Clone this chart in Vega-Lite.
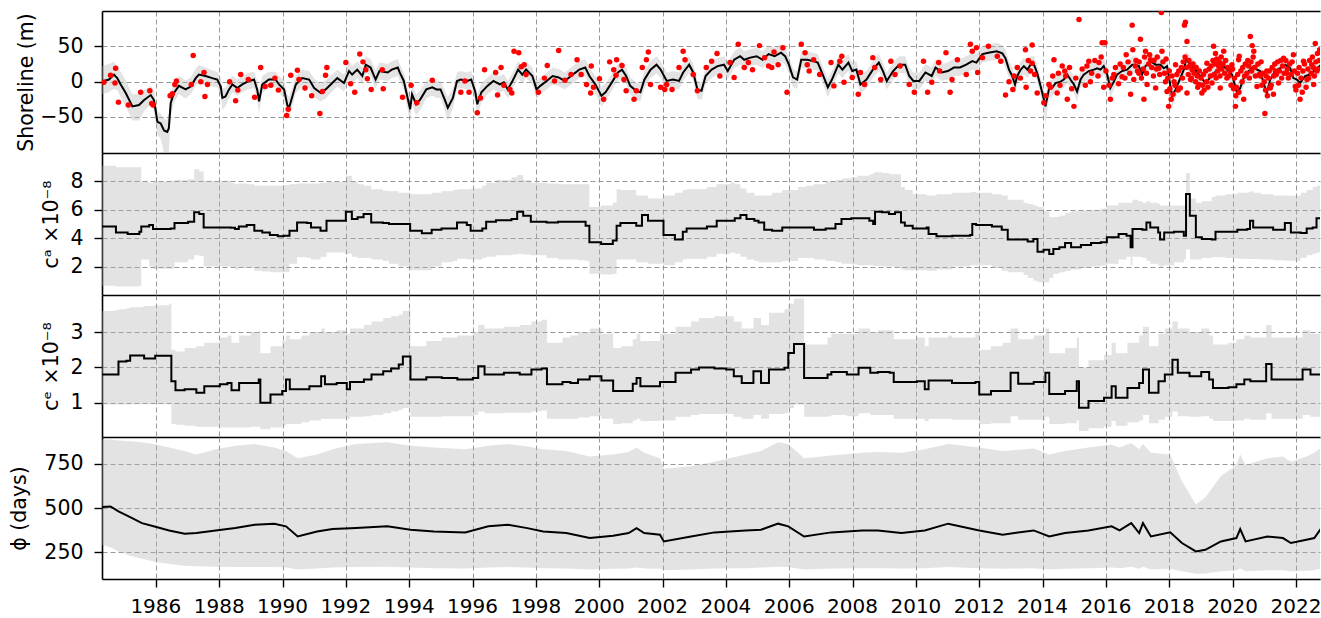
{
"$schema":"https://vega.github.io/schema/vega-lite/v6.json",
"autosize":{"type":"pad"},
"padding":{"left":9,"top":11,"right":0,"bottom":0},
"spacing":0,
"config":{
 "font":"DejaVu Sans",
 "view":{"stroke":null},
 "axis":{"grid":true,"gridColor":"#8c8c8c","gridDash":[5,3],"gridWidth":0.9,"domain":true,"domainColor":"black","domainWidth":1.6,"tickColor":"black","tickSize":8,"tickWidth":1.4,"labelFont":"DejaVu Sans","labelFontSize":20.5,"labelColor":"black","titleFont":"DejaVu Sans","titleFontSize":20.5,"titleFontWeight":"normal","titleColor":"black"},
 "axisY":{"labelPadding":11},
 "axisX":{"labelPadding":9,"labelFontSize":20,"labelOffset":-0.5}
},
"datasets":{
"s1":[
{"t":1984.3,"y":0,"lo":-18,"hi":22},{"t":1984.52,"y":3,"lo":-15,"hi":25},{"t":1984.68,"y":10,"lo":-10,"hi":28},{"t":1984.78,"y":5,"lo":-12,"hi":22},{"t":1984.89,"y":-4,"lo":-22,"hi":14},{"t":1985.05,"y":-16,"lo":-35,"hi":2},{"t":1985.26,"y":-35,"lo":-55,"hi":-18},{"t":1985.47,"y":-33,"lo":-55,"hi":-18},{"t":1985.63,"y":-26,"lo":-42,"hi":-12},{"t":1985.84,"y":-19,"lo":-32,"hi":-6},{"t":1985.94,"y":-26,"lo":-42,"hi":-12},{"t":1986.05,"y":-57,"lo":-75,"hi":-42},{"t":1986.15,"y":-59,"lo":-80,"hi":-45},{"t":1986.26,"y":-69,"lo":-101,"hi":-52},{"t":1986.36,"y":-71,"lo":-101,"hi":-55},{"t":1986.41,"y":-66,"lo":-101,"hi":-45},{"t":1986.47,"y":-30,"lo":-50,"hi":-14},{"t":1986.57,"y":-16,"lo":-30,"hi":-2},{"t":1986.73,"y":-6,"lo":-18,"hi":8},{"t":1986.94,"y":-11,"lo":-24,"hi":2},{"t":1987.1,"y":-7,"lo":-18,"hi":6},{"t":1987.26,"y":5,"lo":-6,"hi":18},{"t":1987.36,"y":10,"lo":-2,"hi":24},{"t":1987.57,"y":8,"lo":-4,"hi":20},{"t":1987.78,"y":5,"lo":-7,"hi":16},{"t":1987.94,"y":3,"lo":-8,"hi":14},{"t":1988.05,"y":-7,"lo":-20,"hi":6},{"t":1988.1,"y":-23,"lo":-40,"hi":-10},{"t":1988.2,"y":-21,"lo":-35,"hi":-8},{"t":1988.31,"y":-11,"lo":-24,"hi":2},{"t":1988.42,"y":-4,"lo":-15,"hi":8},{"t":1988.57,"y":-9,"lo":-20,"hi":3},{"t":1988.73,"y":-4,"lo":-15,"hi":8},{"t":1988.89,"y":0,"lo":-11,"hi":12},{"t":1989.1,"y":3,"lo":-9,"hi":14},{"t":1989.2,"y":-11,"lo":-26,"hi":2},{"t":1989.26,"y":-28,"lo":-45,"hi":-14},{"t":1989.36,"y":-4,"lo":-16,"hi":8},{"t":1989.57,"y":3,"lo":-8,"hi":14},{"t":1989.78,"y":3,"lo":-8,"hi":14},{"t":1989.89,"y":-4,"lo":-15,"hi":8},{"t":1990.05,"y":-11,"lo":-24,"hi":2},{"t":1990.15,"y":-33,"lo":-50,"hi":-18},{"t":1990.2,"y":-38,"lo":-52,"hi":-22},{"t":1990.31,"y":-21,"lo":-36,"hi":-8},{"t":1990.42,"y":-4,"lo":-16,"hi":8},{"t":1990.62,"y":5,"lo":-7,"hi":17},{"t":1990.84,"y":3,"lo":-9,"hi":15},{"t":1991.0,"y":-9,"lo":-22,"hi":4},{"t":1991.21,"y":-16,"lo":-28,"hi":-3},{"t":1991.36,"y":-11,"lo":-24,"hi":2},{"t":1991.57,"y":-2,"lo":-14,"hi":10},{"t":1991.73,"y":5,"lo":-7,"hi":17},{"t":1991.94,"y":-2,"lo":-14,"hi":10},{"t":1992.1,"y":15,"lo":3,"hi":27},{"t":1992.2,"y":10,"lo":-2,"hi":22},{"t":1992.36,"y":17,"lo":5,"hi":29},{"t":1992.52,"y":8,"lo":-4,"hi":20},{"t":1992.63,"y":24,"lo":12,"hi":36},{"t":1992.78,"y":20,"lo":8,"hi":32},{"t":1992.94,"y":3,"lo":-10,"hi":15},{"t":1993.06,"y":15,"lo":3,"hi":27},{"t":1993.32,"y":13,"lo":1,"hi":25},{"t":1993.45,"y":17,"lo":5,"hi":29},{"t":1993.64,"y":20,"lo":8,"hi":32},{"t":1993.7,"y":13,"lo":1,"hi":25},{"t":1993.83,"y":1,"lo":-12,"hi":13},{"t":1994.03,"y":-39,"lo":-58,"hi":-24},{"t":1994.09,"y":-18,"lo":-32,"hi":-5},{"t":1994.22,"y":-32,"lo":-48,"hi":-18},{"t":1994.35,"y":-25,"lo":-40,"hi":-12},{"t":1994.54,"y":-11,"lo":-24,"hi":1},{"t":1994.73,"y":-8,"lo":-20,"hi":4},{"t":1994.86,"y":-11,"lo":-23,"hi":1},{"t":1994.99,"y":-11,"lo":-23,"hi":1},{"t":1995.12,"y":-25,"lo":-40,"hi":-12},{"t":1995.22,"y":-37,"lo":-55,"hi":-22},{"t":1995.38,"y":-23,"lo":-38,"hi":-10},{"t":1995.51,"y":1,"lo":-11,"hi":13},{"t":1995.63,"y":3,"lo":-9,"hi":15},{"t":1995.83,"y":1,"lo":-11,"hi":13},{"t":1995.96,"y":3,"lo":-9,"hi":15},{"t":1996.09,"y":-15,"lo":-30,"hi":-2},{"t":1996.15,"y":-32,"lo":-48,"hi":-18},{"t":1996.28,"y":-15,"lo":-30,"hi":-2},{"t":1996.47,"y":-6,"lo":-18,"hi":6},{"t":1996.66,"y":1,"lo":-11,"hi":13},{"t":1996.86,"y":-4,"lo":-16,"hi":8},{"t":1996.99,"y":-1,"lo":-13,"hi":11},{"t":1997.11,"y":-11,"lo":-24,"hi":1},{"t":1997.24,"y":-1,"lo":-13,"hi":11},{"t":1997.44,"y":17,"lo":5,"hi":29},{"t":1997.57,"y":10,"lo":-2,"hi":22},{"t":1997.69,"y":17,"lo":5,"hi":29},{"t":1997.89,"y":8,"lo":-4,"hi":20},{"t":1998.02,"y":-11,"lo":-25,"hi":1},{"t":1998.14,"y":-6,"lo":-18,"hi":6},{"t":1998.34,"y":1,"lo":-11,"hi":13},{"t":1998.53,"y":8,"lo":-4,"hi":20},{"t":1998.72,"y":6,"lo":-6,"hi":18},{"t":1998.91,"y":1,"lo":-11,"hi":13},{"t":1999.11,"y":8,"lo":-4,"hi":20},{"t":1999.37,"y":17,"lo":5,"hi":29},{"t":1999.56,"y":20,"lo":8,"hi":32},{"t":1999.69,"y":8,"lo":-4,"hi":20},{"t":1999.88,"y":-4,"lo":-17,"hi":8},{"t":2000.07,"y":-20,"lo":-35,"hi":-7},{"t":2000.2,"y":-15,"lo":-28,"hi":-3},{"t":2000.4,"y":-1,"lo":-13,"hi":11},{"t":2000.59,"y":13,"lo":1,"hi":25},{"t":2000.72,"y":17,"lo":5,"hi":29},{"t":2000.85,"y":8,"lo":-4,"hi":20},{"t":2000.98,"y":-6,"lo":-18,"hi":6},{"t":2001.17,"y":-13,"lo":-26,"hi":-1},{"t":2001.3,"y":-15,"lo":-28,"hi":-3},{"t":2001.43,"y":3,"lo":-9,"hi":15},{"t":2001.62,"y":17,"lo":5,"hi":29},{"t":2001.81,"y":24,"lo":12,"hi":36},{"t":2001.94,"y":17,"lo":5,"hi":29},{"t":2002.13,"y":1,"lo":-11,"hi":13},{"t":2002.33,"y":3,"lo":-9,"hi":15},{"t":2002.52,"y":1,"lo":-11,"hi":13},{"t":2002.65,"y":13,"lo":1,"hi":25},{"t":2002.84,"y":24,"lo":12,"hi":36},{"t":2002.97,"y":13,"lo":1,"hi":25},{"t":2003.1,"y":-11,"lo":-24,"hi":1},{"t":2003.23,"y":-13,"lo":-26,"hi":-1},{"t":2003.36,"y":8,"lo":-4,"hi":20},{"t":2003.55,"y":17,"lo":5,"hi":29},{"t":2003.74,"y":22,"lo":10,"hi":34},{"t":2003.94,"y":24,"lo":12,"hi":36},{"t":2004.06,"y":15,"lo":3,"hi":27},{"t":2004.26,"y":31,"lo":19,"hi":43},{"t":2004.45,"y":36,"lo":24,"hi":48},{"t":2004.58,"y":31,"lo":19,"hi":43},{"t":2004.77,"y":34,"lo":22,"hi":46},{"t":2004.97,"y":36,"lo":24,"hi":48},{"t":2005.16,"y":31,"lo":19,"hi":43},{"t":2005.35,"y":39,"lo":27,"hi":51},{"t":2005.54,"y":36,"lo":24,"hi":48},{"t":2005.74,"y":41,"lo":29,"hi":53},{"t":2005.87,"y":36,"lo":24,"hi":48},{"t":2005.99,"y":24,"lo":12,"hi":36},{"t":2006.12,"y":6,"lo":-8,"hi":18},{"t":2006.25,"y":3,"lo":-10,"hi":15},{"t":2006.38,"y":31,"lo":19,"hi":43},{"t":2006.57,"y":31,"lo":19,"hi":43},{"t":2006.77,"y":29,"lo":17,"hi":41},{"t":2006.9,"y":27,"lo":15,"hi":39},{"t":2007.03,"y":13,"lo":1,"hi":25},{"t":2007.22,"y":-8,"lo":-22,"hi":4},{"t":2007.35,"y":3,"lo":-9,"hi":15},{"t":2007.55,"y":24,"lo":12,"hi":36},{"t":2007.68,"y":17,"lo":5,"hi":29},{"t":2007.87,"y":27,"lo":15,"hi":39},{"t":2007.99,"y":15,"lo":3,"hi":27},{"t":2008.12,"y":17,"lo":5,"hi":29},{"t":2008.25,"y":-4,"lo":-17,"hi":8},{"t":2008.44,"y":3,"lo":-9,"hi":15},{"t":2008.64,"y":17,"lo":5,"hi":29},{"t":2008.83,"y":27,"lo":15,"hi":39},{"t":2008.96,"y":15,"lo":3,"hi":27},{"t":2009.08,"y":1,"lo":-11,"hi":13},{"t":2009.28,"y":15,"lo":3,"hi":27},{"t":2009.47,"y":24,"lo":12,"hi":36},{"t":2009.66,"y":24,"lo":12,"hi":36},{"t":2009.79,"y":8,"lo":-4,"hi":20},{"t":2009.92,"y":1,"lo":-11,"hi":13},{"t":2010.11,"y":1,"lo":-11,"hi":13},{"t":2010.3,"y":13,"lo":1,"hi":25},{"t":2010.5,"y":8,"lo":-4,"hi":20},{"t":2010.62,"y":20,"lo":8,"hi":32},{"t":2010.82,"y":13,"lo":1,"hi":25},{"t":2011.01,"y":15,"lo":3,"hi":27},{"t":2011.2,"y":20,"lo":8,"hi":32},{"t":2011.39,"y":20,"lo":8,"hi":32},{"t":2011.59,"y":24,"lo":12,"hi":36},{"t":2011.78,"y":29,"lo":17,"hi":41},{"t":2011.91,"y":27,"lo":15,"hi":39},{"t":2012.1,"y":39,"lo":27,"hi":51},{"t":2012.29,"y":41,"lo":29,"hi":53},{"t":2012.55,"y":43,"lo":31,"hi":55},{"t":2012.73,"y":40,"lo":28,"hi":52},{"t":2012.83,"y":33,"lo":20,"hi":45},{"t":2012.94,"y":17,"lo":4,"hi":29},{"t":2013.04,"y":8,"lo":-5,"hi":20},{"t":2013.13,"y":-4,"lo":-18,"hi":8},{"t":2013.2,"y":8,"lo":-4,"hi":20},{"t":2013.31,"y":17,"lo":5,"hi":29},{"t":2013.41,"y":22,"lo":10,"hi":34},{"t":2013.52,"y":17,"lo":5,"hi":29},{"t":2013.62,"y":24,"lo":12,"hi":36},{"t":2013.73,"y":24,"lo":12,"hi":36},{"t":2013.83,"y":12,"lo":0,"hi":24},{"t":2013.94,"y":-7,"lo":-20,"hi":5},{"t":2014.04,"y":-25,"lo":-42,"hi":-12},{"t":2014.09,"y":-35,"lo":-60,"hi":-20},{"t":2014.2,"y":-11,"lo":-25,"hi":1},{"t":2014.3,"y":-9,"lo":-21,"hi":3},{"t":2014.41,"y":-2,"lo":-14,"hi":10},{"t":2014.57,"y":0,"lo":-12,"hi":12},{"t":2014.67,"y":3,"lo":-9,"hi":15},{"t":2014.78,"y":10,"lo":-2,"hi":22},{"t":2014.88,"y":3,"lo":-9,"hi":15},{"t":2014.99,"y":-4,"lo":-16,"hi":8},{"t":2015.09,"y":-14,"lo":-28,"hi":-2},{"t":2015.2,"y":3,"lo":-9,"hi":15},{"t":2015.3,"y":10,"lo":-2,"hi":22},{"t":2015.46,"y":15,"lo":3,"hi":27},{"t":2015.62,"y":17,"lo":5,"hi":29},{"t":2015.72,"y":19,"lo":7,"hi":31},{"t":2015.83,"y":17,"lo":5,"hi":29},{"t":2015.93,"y":22,"lo":10,"hi":34},{"t":2016.04,"y":10,"lo":-2,"hi":22},{"t":2016.14,"y":-9,"lo":-22,"hi":3},{"t":2016.25,"y":0,"lo":-12,"hi":12},{"t":2016.35,"y":10,"lo":-2,"hi":22},{"t":2016.51,"y":15,"lo":3,"hi":27},{"t":2016.67,"y":17,"lo":5,"hi":29},{"t":2016.83,"y":24,"lo":12,"hi":36},{"t":2016.93,"y":24,"lo":12,"hi":36},{"t":2017.04,"y":22,"lo":10,"hi":34},{"t":2017.14,"y":10,"lo":-2,"hi":22},{"t":2017.25,"y":22,"lo":10,"hi":34},{"t":2017.41,"y":29,"lo":17,"hi":41},{"t":2017.57,"y":24,"lo":12,"hi":36},{"t":2017.72,"y":24,"lo":12,"hi":36},{"t":2017.83,"y":19,"lo":7,"hi":31},{"t":2017.93,"y":22,"lo":10,"hi":34},{"t":2018.04,"y":-7,"lo":-20,"hi":5},{"t":2018.09,"y":-21,"lo":-35,"hi":-9},{"t":2018.2,"y":-11,"lo":-24,"hi":1},{"t":2018.35,"y":5,"lo":-7,"hi":17},{"t":2018.46,"y":17,"lo":5,"hi":29},{"t":2018.53,"y":31,"lo":19,"hi":43},{"t":2018.67,"y":24,"lo":12,"hi":36},{"t":2018.82,"y":17,"lo":5,"hi":29},{"t":2018.98,"y":8,"lo":-4,"hi":20},{"t":2019.14,"y":-2,"lo":-14,"hi":10},{"t":2019.24,"y":3,"lo":-9,"hi":15},{"t":2019.4,"y":12,"lo":0,"hi":24},{"t":2019.56,"y":17,"lo":5,"hi":29},{"t":2019.72,"y":22,"lo":10,"hi":34},{"t":2019.82,"y":17,"lo":5,"hi":29},{"t":2019.98,"y":10,"lo":-2,"hi":22},{"t":2020.14,"y":-16,"lo":-30,"hi":-4},{"t":2020.24,"y":-9,"lo":-22,"hi":3},{"t":2020.35,"y":5,"lo":-7,"hi":17},{"t":2020.51,"y":15,"lo":3,"hi":27},{"t":2020.67,"y":22,"lo":10,"hi":34},{"t":2020.77,"y":17,"lo":5,"hi":29},{"t":2020.87,"y":15,"lo":3,"hi":27},{"t":2020.98,"y":-2,"lo":-14,"hi":10},{"t":2021.08,"y":-16,"lo":-30,"hi":-4},{"t":2021.19,"y":3,"lo":-9,"hi":15},{"t":2021.35,"y":15,"lo":3,"hi":27},{"t":2021.5,"y":19,"lo":7,"hi":31},{"t":2021.66,"y":24,"lo":12,"hi":36},{"t":2021.82,"y":19,"lo":7,"hi":31},{"t":2021.92,"y":5,"lo":-7,"hi":17},{"t":2022.03,"y":3,"lo":-9,"hi":15},{"t":2022.13,"y":-2,"lo":-14,"hi":10},{"t":2022.29,"y":8,"lo":-4,"hi":20},{"t":2022.45,"y":10,"lo":-2,"hi":22},{"t":2022.61,"y":17,"lo":5,"hi":29},{"t":2022.8,"y":24,"lo":12,"hi":36}
],
"d1":[
{"t":1984.36,"v":-1},{"t":1984.57,"v":9},{"t":1984.73,"v":19},{"t":1984.71,"v":-2},{"t":1984.82,"v":-29},{"t":1985.13,"v":-33},{"t":1985.52,"v":-15},{"t":1985.81,"v":-13},{"t":1985.87,"v":-31},{"t":1985.91,"v":-33},{"t":1986.45,"v":-20},{"t":1986.52,"v":-17},{"t":1986.6,"v":-4},{"t":1986.65,"v":1},{"t":1987.18,"v":37},{"t":1987.12,"v":-4},{"t":1987.42,"v":0},{"t":1987.52,"v":13},{"t":1987.63,"v":-4},{"t":1987.55,"v":-21},{"t":1988.33,"v":0},{"t":1988.52,"v":-27},{"t":1988.59,"v":-12},{"t":1988.68,"v":10},{"t":1988.92,"v":3},{"t":1989.12,"v":-22},{"t":1989.31,"v":20},{"t":1989.45,"v":-7},{"t":1989.63,"v":-5},{"t":1989.76,"v":5},{"t":1989.87,"v":-12},{"t":1990.13,"v":-48},{"t":1990.18,"v":-39},{"t":1990.26,"v":9},{"t":1990.47,"v":16},{"t":1990.52,"v":3},{"t":1990.71,"v":-9},{"t":1990.92,"v":-20},{"t":1991.18,"v":-45},{"t":1991.26,"v":-14},{"t":1991.36,"v":9},{"t":1991.4,"v":20},{"t":1992.0,"v":27},{"t":1992.15,"v":-3},{"t":1992.28,"v":-15},{"t":1992.44,"v":39},{"t":1992.54,"v":28},{"t":1992.63,"v":17},{"t":1992.68,"v":4},{"t":1992.8,"v":-11},{"t":1993.15,"v":17},{"t":1993.18,"v":-10},
{"t":1993.79,"v":-22},{"t":1994.06,"v":-5},{"t":1994.24,"v":-30},{"t":1994.73,"v":2},{"t":1995.63,"v":-15},{"t":1995.76,"v":1},{"t":1995.89,"v":-15},{"t":1996.15,"v":-44},{"t":1996.25,"v":-23},{"t":1996.38,"v":17},{"t":1996.73,"v":13},{"t":1996.79,"v":-19},{"t":1996.9,"v":20},{"t":1996.99,"v":-5},{"t":1997.18,"v":-11},{"t":1997.31,"v":43},{"t":1997.46,"v":41},{"t":1997.24,"v":-16},{"t":1997.54,"v":21},{"t":1997.63,"v":24},{"t":1997.69,"v":10},{"t":1998.08,"v":-15},{"t":1998.27,"v":5},{"t":1998.36,"v":23},{"t":1998.59,"v":1},{"t":1998.72,"v":44},{"t":1998.92,"v":2},{"t":1999.11,"v":10},{"t":1999.3,"v":31},{"t":1999.43,"v":10},{"t":1999.6,"v":-4},{"t":1999.75,"v":22},{"t":1999.73,"v":-16},{"t":1999.82,"v":-8},{"t":2000.01,"v":4},{"t":2000.14,"v":-25},{"t":2000.33,"v":28},{"t":2000.46,"v":17},{"t":2000.55,"v":31},{"t":2000.53,"v":9},{"t":2000.72,"v":23},{"t":2000.78,"v":3},{"t":2000.85,"v":-13},{"t":2001.1,"v":-25},{"t":2001.17,"v":-13},{"t":2001.36,"v":20},{"t":2001.49,"v":31},{"t":2001.55,"v":42},{"t":2001.62,"v":-4},{"t":2001.94,"v":-8},{"t":2002.07,"v":-11},{"t":2002.13,"v":-4},{"t":2002.3,"v":-11},{"t":2002.52,"v":20},{"t":2002.65,"v":43},{"t":2002.71,"v":31},{"t":2002.97,"v":10},{"t":2003.1,"v":-13},{"t":2003.38,"v":20},{"t":2003.55,"v":29},{"t":2003.72,"v":40},{"t":2003.81,"v":8},{"t":2004.13,"v":27},{"t":2004.26,"v":6},{"t":2004.39,"v":53},{"t":2004.58,"v":20},{"t":2004.71,"v":27},{"t":2004.84,"v":17},{"t":2005.06,"v":51},{"t":2005.22,"v":34},{"t":2005.35,"v":22},{"t":2005.52,"v":42},{"t":2005.45,"v":20},{"t":2005.8,"v":48},{"t":2005.65,"v":24},{"t":2005.93,"v":-15},{"t":2006.38,"v":53},{"t":2006.5,"v":41},{"t":2006.57,"v":24},{"t":2006.63,"v":15},{"t":2006.77,"v":31},{"t":2006.96,"v":10},{"t":2007.32,"v":27},{"t":2007.41,"v":-6},{"t":2007.6,"v":29},{"t":2007.66,"v":36},{"t":2007.73,"v":-1},{"t":2007.99,"v":6},{"t":2008.18,"v":-18},{"t":2008.25,"v":13},{"t":2008.38,"v":-4},{"t":2008.64,"v":34},{"t":2008.7,"v":20},{"t":2008.89,"v":3},{"t":2009.21,"v":29},{"t":2009.34,"v":10},{"t":2009.5,"v":22},{"t":2009.79,"v":-4},{"t":2009.95,"v":-15},{"t":2010.24,"v":29},{"t":2010.37,"v":-15},{"t":2010.5,"v":-1},{"t":2010.72,"v":27},{"t":2010.75,"v":15},{"t":2010.95,"v":41},{"t":2011.08,"v":-15},{"t":2011.14,"v":3},{"t":2011.31,"v":31},{"t":2011.59,"v":10},{"t":2011.72,"v":53},{"t":2011.78,"v":43},{"t":2011.91,"v":48},{"t":2011.95,"v":13},{"t":2012.1,"v":34},{"t":2012.29,"v":50},{"t":2012.57,"v":36},{"t":2012.83,"v":-19},{"t":2013.06,"v":-11},
{"t":2012.68,"v":29},{"t":2012.94,"v":0},{"t":2013.1,"v":8},{"t":2013.46,"v":45},{"t":2013.48,"v":-8},{"t":2013.67,"v":52},{"t":2013.67,"v":26},{"t":2013.62,"v":15},{"t":2013.83,"v":-16},{"t":2014.04,"v":-30},{"t":2014.2,"v":-4},{"t":2014.36,"v":31},{"t":2014.46,"v":-16},{"t":2014.62,"v":22},{"t":2014.73,"v":8},{"t":2014.78,"v":-25},{"t":2014.99,"v":-35},{"t":2015.15,"v":88},{"t":2015.46,"v":29},{"t":2015.51,"v":0},{"t":2015.78,"v":27},{"t":2015.88,"v":55},{"t":2015.97,"v":55},{"t":2015.93,"v":-8},{"t":2016.14,"v":-25},{"t":2016.25,"v":10},{"t":2016.51,"v":7},{"t":2016.64,"v":38},{"t":2016.78,"v":-18},{"t":2016.83,"v":80},{"t":2016.85,"v":45},{"t":2016.88,"v":3},{"t":2016.93,"v":22},{"t":2017.04,"v":12},{"t":2017.09,"v":60},{"t":2017.2,"v":-25},{"t":2017.25,"v":43},{"t":2017.3,"v":-4},{"t":2017.41,"v":31},{"t":2017.57,"v":-9},{"t":2017.67,"v":19},{"t":2017.75,"v":98},{"t":2017.77,"v":43},{"t":2017.88,"v":0},{"t":2017.93,"v":-14},{"t":2017.98,"v":-35},{"t":2018.09,"v":8},{"t":2018.2,"v":24},{"t":2018.35,"v":-9},{"t":2018.48,"v":80},{"t":2018.51,"v":84},{"t":2018.56,"v":57},{"t":2018.56,"v":-16},{"t":2018.67,"v":3},{"t":2018.72,"v":17},{"t":2018.83,"v":0},{"t":2018.93,"v":-4},{"t":2019.03,"v":-16},{"t":2019.19,"v":26},{"t":2019.3,"v":8},{"t":2019.4,"v":50},{"t":2019.46,"v":40},{"t":2019.56,"v":22},{"t":2019.61,"v":-9},{"t":2019.72,"v":43},{"t":2019.82,"v":5},{"t":2019.98,"v":24},{"t":2020.09,"v":-35},{"t":2020.19,"v":31},{"t":2020.21,"v":36},{"t":2020.35,"v":-25},{"t":2020.51,"v":22},{"t":2020.56,"v":64},{"t":2020.62,"v":51},{"t":2020.67,"v":43},{"t":2020.77,"v":-7},{"t":2020.88,"v":8},{"t":2021.02,"v":-45},{"t":2021.08,"v":15},{"t":2021.19,"v":-9},{"t":2021.29,"v":-18},{"t":2021.35,"v":15},{"t":2021.45,"v":-2},{"t":2021.61,"v":33},{"t":2021.71,"v":12},{"t":2021.92,"v":38},{"t":2021.98,"v":-7},{"t":2022.13,"v":-25},{"t":2022.24,"v":29},{"t":2022.35,"v":3},{"t":2022.5,"v":24},{"t":2022.56,"v":-4},{"t":2022.61,"v":54},{"t":2022.66,"v":15},
{"t":2013.2,"v":20},{"t":2013.3,"v":5},{"t":2013.55,"v":30},{"t":2013.75,"v":10},{"t":2014.1,"v":-20},{"t":2014.25,"v":-8},{"t":2014.32,"v":8},{"t":2014.5,"v":12},{"t":2014.55,"v":-5},{"t":2014.7,"v":15},{"t":2014.85,"v":20},{"t":2014.92,"v":-10},{"t":2015.05,"v":5},{"t":2015.25,"v":18},{"t":2015.35,"v":-5},{"t":2015.4,"v":22},{"t":2015.55,"v":12},{"t":2015.65,"v":30},{"t":2015.75,"v":8},{"t":2015.85,"v":35},{"t":2016.0,"v":15},{"t":2016.1,"v":-5},{"t":2016.2,"v":5},{"t":2016.3,"v":20},{"t":2016.4,"v":-3},{"t":2016.45,"v":25},
{"t":2016.55,"v":20},{"t":2016.6,"v":5},{"t":2016.7,"v":28},{"t":2016.75,"v":12},{"t":2016.95,"v":30},{"t":2017.0,"v":15},{"t":2017.05,"v":28},{"t":2017.12,"v":5},{"t":2017.18,"v":18},{"t":2017.22,"v":35},{"t":2017.28,"v":12},{"t":2017.35,"v":25},{"t":2017.38,"v":38},{"t":2017.45,"v":20},{"t":2017.5,"v":8},{"t":2017.52,"v":30},{"t":2017.6,"v":18},{"t":2017.62,"v":35},{"t":2017.7,"v":10},{"t":2017.8,"v":28},{"t":2017.85,"v":12},{"t":2017.9,"v":32},{"t":2017.95,"v":5},{"t":2018.0,"v":15},{"t":2018.02,"v":-10},{"t":2018.06,"v":-25},{"t":2018.12,"v":-18},{"t":2018.15,"v":0},{"t":2018.18,"v":-5},{"t":2018.24,"v":10},{"t":2018.28,"v":-12},{"t":2018.3,"v":15},{"t":2018.38,"v":20},{"t":2018.42,"v":5},{"t":2018.44,"v":28},{"t":2018.5,"v":35},{"t":2018.55,"v":20},{"t":2018.6,"v":10},{"t":2018.62,"v":30},{"t":2018.65,"v":22},{"t":2018.7,"v":5},{"t":2018.75,"v":25},{"t":2018.78,"v":12},{"t":2018.85,"v":20},{"t":2018.88,"v":8},{"t":2018.9,"v":-8},{"t":2018.95,"v":15},{"t":2019.0,"v":5},{"t":2019.05,"v":-5},{"t":2019.08,"v":10},{"t":2019.1,"v":-12},{"t":2019.15,"v":15},{"t":2019.18,"v":0},{"t":2019.22,"v":-8},{"t":2019.26,"v":18},{"t":2019.32,"v":22},{"t":2019.35,"v":-2},{"t":2019.38,"v":30},{"t":2019.42,"v":10},{"t":2019.44,"v":25},{"t":2019.48,"v":5},{"t":2019.5,"v":32},{"t":2019.53,"v":15},{"t":2019.58,"v":28},{"t":2019.6,"v":8},{"t":2019.64,"v":35},{"t":2019.66,"v":18},{"t":2019.7,"v":25},{"t":2019.75,"v":12},{"t":2019.78,"v":30},{"t":2019.85,"v":20},{"t":2019.88,"v":8},{"t":2019.92,"v":15},{"t":2019.95,"v":-5},{"t":2020.0,"v":18},{"t":2020.03,"v":-10},{"t":2020.06,"v":5},{"t":2020.1,"v":-20},{"t":2020.12,"v":-8},{"t":2020.16,"v":10},{"t":2020.2,"v":-15},{"t":2020.26,"v":15},{"t":2020.3,"v":0},{"t":2020.32,"v":20},{"t":2020.38,"v":8},{"t":2020.4,"v":25},{"t":2020.45,"v":12},{"t":2020.48,"v":30},{"t":2020.53,"v":5},{"t":2020.58,"v":28},{"t":2020.6,"v":15},{"t":2020.65,"v":35},{"t":2020.7,"v":20},{"t":2020.72,"v":8},{"t":2020.8,"v":25},{"t":2020.84,"v":10},{"t":2020.9,"v":28},{"t":2020.92,"v":-5},{"t":2020.95,"v":12},{"t":2021.0,"v":0},{"t":2021.04,"v":-12},{"t":2021.06,"v":8},{"t":2021.1,"v":-20},{"t":2021.13,"v":5},{"t":2021.16,"v":15},{"t":2021.22,"v":-5},{"t":2021.25,"v":20},{"t":2021.3,"v":8},{"t":2021.33,"v":25},{"t":2021.38,"v":10},{"t":2021.42,"v":28},{"t":2021.48,"v":15},{"t":2021.52,"v":30},{"t":2021.55,"v":5},{"t":2021.58,"v":22},{"t":2021.63,"v":12},{"t":2021.68,"v":30},{"t":2021.73,"v":18},{"t":2021.76,"v":5},{"t":2021.8,"v":25},{"t":2021.85,"v":10},{"t":2021.88,"v":28},{"t":2021.95,"v":15},{"t":2022.0,"v":-12},{"t":2022.05,"v":12},{"t":2022.08,"v":-5},{"t":2022.1,"v":20},{"t":2022.16,"v":5},{"t":2022.2,"v":-15},{"t":2022.22,"v":15},{"t":2022.27,"v":25},{"t":2022.32,"v":-8},{"t":2022.38,"v":18},{"t":2022.4,"v":5},{"t":2022.43,"v":30},{"t":2022.48,"v":12},{"t":2022.52,"v":35},{"t":2022.55,"v":20},{"t":2022.58,"v":8},{"t":2022.63,"v":28},{"t":2022.68,"v":40},{"t":2022.7,"v":18},{"t":2022.73,"v":30},{"t":2022.75,"v":45}
],
"s2":[
{"t":1984.3,"y":4.83,"lo":0.66,"hi":9.1},{"t":1984.68,"y":4.83,"lo":0.66,"hi":9.1},{"t":1984.74,"y":4.41,"lo":0.6,"hi":9.0},{"t":1985.11,"y":4.3,"lo":0.6,"hi":9.0},{"t":1985.48,"y":4.46,"lo":0.65,"hi":9.0},{"t":1985.54,"y":4.83,"lo":2.5,"hi":7.95},{"t":1985.79,"y":4.93,"lo":2.0,"hi":7.9},{"t":1985.91,"y":4.65,"lo":1.85,"hi":8.0},{"t":1986.47,"y":4.69,"lo":1.85,"hi":8.05},{"t":1986.59,"y":5.07,"lo":2.3,"hi":8.1},{"t":1987.02,"y":5.16,"lo":2.5,"hi":8.15},{"t":1987.21,"y":5.82,"lo":2.8,"hi":8.85},{"t":1987.37,"y":5.7,"lo":2.75,"hi":8.7},{"t":1987.51,"y":4.76,"lo":2.0,"hi":8.05},{"t":1988.37,"y":4.74,"lo":1.9,"hi":7.9},{"t":1988.5,"y":4.65,"lo":1.8,"hi":7.8},{"t":1988.62,"y":4.83,"lo":1.9,"hi":7.85},{"t":1988.87,"y":4.93,"lo":1.9,"hi":7.8},{"t":1989.11,"y":4.53,"lo":1.7,"hi":7.7},{"t":1989.36,"y":4.41,"lo":1.65,"hi":7.7},{"t":1989.6,"y":4.22,"lo":1.6,"hi":7.7},{"t":1989.85,"y":4.13,"lo":1.6,"hi":7.7},{"t":1990.03,"y":4.18,"lo":1.6,"hi":7.75},{"t":1990.22,"y":4.53,"lo":2.2,"hi":7.8},{"t":1990.46,"y":5.11,"lo":2.65,"hi":7.85},{"t":1990.77,"y":5.07,"lo":2.6,"hi":7.85},{"t":1990.9,"y":4.76,"lo":2.5,"hi":7.85},{"t":1991.2,"y":4.53,"lo":2.7,"hi":7.9},{"t":1991.39,"y":5.23,"lo":3.0,"hi":7.95},{"t":1991.57,"y":5.23,"lo":3.0,"hi":7.95},{"t":1991.97,"y":5.23,"lo":2.9,"hi":8.0},{"t":1992.0,"y":5.87,"lo":2.9,"hi":8.4},{"t":1992.19,"y":5.35,"lo":2.7,"hi":8.0},{"t":1992.37,"y":5.47,"lo":2.6,"hi":7.8},{"t":1992.56,"y":5.7,"lo":2.6,"hi":7.7},{"t":1992.8,"y":5.11,"lo":2.5,"hi":7.45},{"t":1993.17,"y":5.07,"lo":2.4,"hi":7.35},{"t":1993.36,"y":5.0,"lo":2.2,"hi":7.3},{"t":1993.66,"y":5.0,"lo":2.0,"hi":7.2},{"t":1994.03,"y":4.53,"lo":1.75,"hi":7.1},{"t":1994.4,"y":4.34,"lo":1.75,"hi":7.1},{"t":1994.71,"y":4.6,"lo":2.0,"hi":7.2},{"t":1995.02,"y":4.69,"lo":2.3,"hi":7.3},{"t":1995.38,"y":4.69,"lo":2.4,"hi":7.4},{"t":1995.51,"y":5.11,"lo":2.55,"hi":7.45},{"t":1995.82,"y":4.93,"lo":2.5,"hi":7.45},{"t":1995.94,"y":4.53,"lo":2.5,"hi":7.5},{"t":1996.31,"y":4.69,"lo":2.6,"hi":7.7},{"t":1996.43,"y":5.16,"lo":2.7,"hi":7.9},{"t":1996.74,"y":5.26,"lo":2.8,"hi":8.1},{"t":1997.23,"y":5.35,"lo":2.85,"hi":8.3},{"t":1997.41,"y":5.87,"lo":2.9,"hi":8.45},{"t":1997.6,"y":5.58,"lo":2.85,"hi":8.1},{"t":1997.84,"y":5.16,"lo":2.8,"hi":7.9},{"t":1998.34,"y":5.11,"lo":2.6,"hi":7.85},{"t":1998.7,"y":5.16,"lo":2.5,"hi":7.8},{"t":1999.32,"y":5.16,"lo":2.45,"hi":7.8},{"t":1999.57,"y":4.88,"lo":2.4,"hi":7.8},{"t":1999.69,"y":3.71,"lo":1.5,"hi":6.2},{"t":2000.06,"y":3.59,"lo":1.45,"hi":6.3},{"t":2000.43,"y":3.83,"lo":1.5,"hi":6.5},{"t":2000.55,"y":4.88,"lo":2.5,"hi":7.45},{"t":2000.67,"y":5.07,"lo":2.5,"hi":7.4},{"t":2001.17,"y":4.88,"lo":2.3,"hi":7.0},{"t":2001.35,"y":5.63,"lo":2.3,"hi":7.0},{"t":2001.54,"y":5.23,"lo":2.2,"hi":6.8},{"t":2001.9,"y":5.23,"lo":2.2,"hi":6.8},{"t":2002.03,"y":4.22,"lo":2.1,"hi":7.0},{"t":2002.39,"y":3.9,"lo":2.3,"hi":7.2},{"t":2002.64,"y":4.46,"lo":2.5,"hi":7.4},{"t":2002.76,"y":4.69,"lo":2.55,"hi":7.45},{"t":2003.15,"y":4.69,"lo":2.54,"hi":7.46},{"t":2003.4,"y":4.83,"lo":2.7,"hi":7.6},{"t":2003.71,"y":5.23,"lo":2.9,"hi":7.8},{"t":2004.15,"y":5.23,"lo":3.0,"hi":7.93},{"t":2004.28,"y":5.4,"lo":2.9,"hi":7.8},{"t":2004.46,"y":5.63,"lo":2.7,"hi":7.5},{"t":2004.65,"y":5.35,"lo":2.5,"hi":7.2},{"t":2004.9,"y":5.23,"lo":2.4,"hi":7.0},{"t":2005.03,"y":5.11,"lo":2.3,"hi":7.0},{"t":2005.21,"y":4.6,"lo":2.3,"hi":7.0},{"t":2005.46,"y":4.53,"lo":2.3,"hi":7.2},{"t":2005.78,"y":4.76,"lo":2.4,"hi":7.4},{"t":2006.28,"y":4.76,"lo":2.6,"hi":7.6},{"t":2006.53,"y":4.76,"lo":2.6,"hi":7.7},{"t":2006.78,"y":4.6,"lo":2.5,"hi":7.8},{"t":2007.15,"y":4.69,"lo":2.4,"hi":8.0},{"t":2007.46,"y":5.0,"lo":2.3,"hi":8.1},{"t":2007.65,"y":5.35,"lo":2.2,"hi":8.2},{"t":2007.96,"y":5.4,"lo":2.15,"hi":8.3},{"t":2008.15,"y":5.4,"lo":2.1,"hi":8.4},{"t":2008.53,"y":5.23,"lo":2.1,"hi":8.5},{"t":2008.65,"y":5.0,"lo":2.05,"hi":8.6},{"t":2008.71,"y":5.87,"lo":2.05,"hi":8.65},{"t":2008.93,"y":5.82,"lo":2.0,"hi":8.6},{"t":2009.15,"y":5.7,"lo":2.0,"hi":8.5},{"t":2009.34,"y":5.82,"lo":1.9,"hi":8.5},{"t":2009.53,"y":5.11,"lo":1.8,"hi":7.6},{"t":2009.65,"y":4.88,"lo":1.75,"hi":7.4},{"t":2009.9,"y":4.69,"lo":1.75,"hi":7.1},{"t":2010.34,"y":4.76,"lo":1.72,"hi":7.0},{"t":2010.4,"y":4.3,"lo":1.7,"hi":7.0},{"t":2010.65,"y":4.13,"lo":1.8,"hi":7.1},{"t":2011.15,"y":4.18,"lo":2.0,"hi":7.2},{"t":2011.71,"y":4.22,"lo":2.07,"hi":7.23},{"t":2011.78,"y":5.0,"lo":2.1,"hi":7.25},{"t":2011.9,"y":4.93,"lo":2.1,"hi":7.2},{"t":2012.4,"y":4.83,"lo":1.9,"hi":7.1},{"t":2012.71,"y":4.6,"lo":1.7,"hi":7.0},{"t":2012.9,"y":3.9,"lo":1.6,"hi":6.7},{"t":2013.4,"y":3.9,"lo":1.4,"hi":6.5},{"t":2013.53,"y":3.76,"lo":1.2,"hi":6.4},{"t":2013.71,"y":3.95,"lo":1.0,"hi":6.3},{"t":2013.84,"y":3.05,"lo":0.9,"hi":6.2},{"t":2014.03,"y":3.19,"lo":0.9,"hi":5.9},{"t":2014.21,"y":2.89,"lo":1.2,"hi":5.5},{"t":2014.34,"y":3.24,"lo":1.5,"hi":5.5},{"t":2014.53,"y":3.36,"lo":1.6,"hi":5.6},{"t":2014.71,"y":3.66,"lo":1.7,"hi":5.8},{"t":2014.9,"y":3.36,"lo":1.8,"hi":5.9},{"t":2015.21,"y":3.52,"lo":1.9,"hi":5.95},{"t":2015.53,"y":3.66,"lo":2.0,"hi":6.0},{"t":2015.84,"y":3.71,"lo":2.07,"hi":6.1},{"t":2016.03,"y":4.06,"lo":2.2,"hi":6.3},{"t":2016.4,"y":4.3,"lo":2.5,"hi":6.5},{"t":2016.65,"y":4.18,"lo":2.7,"hi":6.5},{"t":2016.78,"y":3.36,"lo":2.1,"hi":6.5},{"t":2016.84,"y":4.65,"lo":2.7,"hi":6.7},{"t":2017.03,"y":4.65,"lo":2.7,"hi":6.6},{"t":2017.15,"y":4.6,"lo":2.6,"hi":6.5},{"t":2017.28,"y":5.11,"lo":2.4,"hi":6.6},{"t":2017.4,"y":4.76,"lo":2.2,"hi":6.5},{"t":2017.65,"y":4.41,"lo":2.07,"hi":6.4},{"t":2017.71,"y":3.9,"lo":2.0,"hi":6.3},{"t":2017.84,"y":4.41,"lo":2.1,"hi":6.3},{"t":2018.15,"y":4.46,"lo":2.3,"hi":6.3},{"t":2018.46,"y":4.18,"lo":2.5,"hi":6.3},{"t":2018.53,"y":7.11,"lo":3.2,"hi":8.6},{"t":2018.65,"y":5.58,"lo":2.5,"hi":6.8},{"t":2018.84,"y":4.06,"lo":2.5,"hi":6.5},{"t":2019.03,"y":3.95,"lo":2.6,"hi":6.6},{"t":2019.34,"y":3.9,"lo":2.65,"hi":6.9},{"t":2019.46,"y":4.46,"lo":2.65,"hi":7.0},{"t":2019.78,"y":4.46,"lo":2.6,"hi":7.1},{"t":2020.15,"y":4.6,"lo":2.55,"hi":7.2},{"t":2020.46,"y":4.65,"lo":2.54,"hi":7.23},{"t":2020.55,"y":5.23,"lo":2.54,"hi":7.3},{"t":2020.65,"y":4.76,"lo":2.54,"hi":7.2},{"t":2020.9,"y":4.76,"lo":2.5,"hi":7.1},{"t":2021.28,"y":4.6,"lo":2.45,"hi":7.0},{"t":2021.65,"y":5.07,"lo":2.42,"hi":7.0},{"t":2021.84,"y":4.41,"lo":2.42,"hi":6.99},{"t":2022.15,"y":4.37,"lo":2.6,"hi":7.2},{"t":2022.34,"y":4.69,"lo":2.8,"hi":7.4},{"t":2022.53,"y":4.76,"lo":2.9,"hi":7.6},{"t":2022.65,"y":5.4,"lo":3.0,"hi":7.7},{"t":2022.8,"y":5.4,"lo":3.0,"hi":7.7}
],
"s3":[
{"t":1984.3,"y":1.8,"lo":0.95,"hi":3.6},{"t":1984.7,"y":1.8,"lo":0.95,"hi":3.62},{"t":1984.82,"y":2.17,"lo":0.95,"hi":3.65},{"t":1985.07,"y":2.19,"lo":0.95,"hi":3.68},{"t":1985.19,"y":2.34,"lo":0.96,"hi":3.7},{"t":1985.56,"y":2.34,"lo":0.96,"hi":3.72},{"t":1985.63,"y":2.25,"lo":0.96,"hi":3.74},{"t":1985.93,"y":2.25,"lo":0.96,"hi":3.75},{"t":1985.98,"y":2.33,"lo":0.96,"hi":3.76},{"t":1986.42,"y":2.33,"lo":0.96,"hi":3.8},{"t":1986.49,"y":1.61,"lo":0.4,"hi":2.5},{"t":1986.62,"y":1.35,"lo":0.38,"hi":2.45},{"t":1986.91,"y":1.38,"lo":0.35,"hi":2.55},{"t":1987.28,"y":1.28,"lo":0.32,"hi":2.6},{"t":1987.53,"y":1.47,"lo":0.32,"hi":2.7},{"t":1988.02,"y":1.52,"lo":0.3,"hi":2.85},{"t":1988.26,"y":1.56,"lo":0.3,"hi":2.9},{"t":1988.39,"y":1.35,"lo":0.3,"hi":2.7},{"t":1988.63,"y":1.56,"lo":0.3,"hi":2.9},{"t":1989.0,"y":1.56,"lo":0.32,"hi":3.0},{"t":1989.25,"y":1.66,"lo":0.32,"hi":3.05},{"t":1989.3,"y":1.0,"lo":0.25,"hi":2.4},{"t":1989.62,"y":1.23,"lo":0.3,"hi":2.6},{"t":1989.99,"y":1.33,"lo":0.35,"hi":2.75},{"t":1990.11,"y":1.66,"lo":0.4,"hi":2.9},{"t":1990.23,"y":1.38,"lo":0.4,"hi":2.8},{"t":1990.6,"y":1.38,"lo":0.45,"hi":2.9},{"t":1990.85,"y":1.47,"lo":0.5,"hi":3.0},{"t":1991.22,"y":1.75,"lo":0.55,"hi":3.1},{"t":1991.34,"y":1.52,"lo":0.55,"hi":3.0},{"t":1991.71,"y":1.56,"lo":0.55,"hi":3.05},{"t":1992.03,"y":1.38,"lo":0.55,"hi":2.95},{"t":1992.13,"y":1.59,"lo":0.6,"hi":3.1},{"t":1992.57,"y":1.66,"lo":0.62,"hi":3.2},{"t":1992.81,"y":1.8,"lo":0.65,"hi":3.3},{"t":1993.18,"y":1.89,"lo":0.7,"hi":3.4},{"t":1993.43,"y":1.97,"lo":0.75,"hi":3.45},{"t":1993.67,"y":2.08,"lo":0.8,"hi":3.5},{"t":1993.8,"y":2.31,"lo":0.85,"hi":3.6},{"t":1993.97,"y":2.31,"lo":0.88,"hi":3.65},{"t":1994.04,"y":1.66,"lo":0.6,"hi":2.6},{"t":1994.54,"y":1.72,"lo":0.6,"hi":2.75},{"t":1995.03,"y":1.7,"lo":0.62,"hi":2.85},{"t":1995.52,"y":1.66,"lo":0.62,"hi":2.9},{"t":1996.01,"y":1.7,"lo":0.65,"hi":3.0},{"t":1996.18,"y":2.03,"lo":0.75,"hi":3.2},{"t":1996.38,"y":1.8,"lo":0.7,"hi":3.1},{"t":1996.99,"y":1.85,"lo":0.72,"hi":3.15},{"t":1997.49,"y":1.8,"lo":0.72,"hi":3.2},{"t":1997.86,"y":1.94,"lo":0.75,"hi":3.3},{"t":1998.18,"y":1.97,"lo":0.78,"hi":3.35},{"t":1998.35,"y":1.52,"lo":0.55,"hi":2.7},{"t":1998.84,"y":1.59,"lo":0.55,"hi":2.85},{"t":1999.09,"y":1.56,"lo":0.55,"hi":2.9},{"t":1999.33,"y":1.66,"lo":0.58,"hi":3.0},{"t":1999.7,"y":1.75,"lo":0.62,"hi":3.1},{"t":2000.07,"y":1.63,"lo":0.55,"hi":2.95},{"t":2000.44,"y":1.33,"lo":0.4,"hi":2.55},{"t":2000.69,"y":1.33,"lo":0.42,"hi":2.6},{"t":2001.06,"y":1.54,"lo":0.5,"hi":2.8},{"t":2001.18,"y":1.7,"lo":0.55,"hi":2.95},{"t":2001.3,"y":1.47,"lo":0.48,"hi":2.75},{"t":2001.92,"y":1.59,"lo":0.5,"hi":2.95},{"t":2002.41,"y":1.85,"lo":0.6,"hi":3.15},{"t":2002.9,"y":1.94,"lo":0.65,"hi":3.3},{"t":2003.15,"y":2.0,"lo":0.68,"hi":3.4},{"t":2003.64,"y":1.97,"lo":0.68,"hi":3.45},{"t":2004.01,"y":1.94,"lo":0.68,"hi":3.45},{"t":2004.25,"y":1.75,"lo":0.6,"hi":3.3},{"t":2004.5,"y":1.56,"lo":0.55,"hi":3.1},{"t":2004.87,"y":1.89,"lo":0.65,"hi":3.4},{"t":2005.11,"y":1.56,"lo":0.55,"hi":3.2},{"t":2005.36,"y":1.94,"lo":0.68,"hi":3.55},{"t":2005.85,"y":1.99,"lo":0.7,"hi":3.65},{"t":2005.97,"y":2.41,"lo":0.85,"hi":3.8},{"t":2006.15,"y":2.66,"lo":0.95,"hi":3.95},{"t":2006.35,"y":2.66,"lo":0.95,"hi":3.95},{"t":2006.47,"y":1.7,"lo":0.6,"hi":2.65},{"t":2007.21,"y":1.8,"lo":0.62,"hi":2.85},{"t":2007.33,"y":1.87,"lo":0.65,"hi":2.95},{"t":2007.82,"y":1.8,"lo":0.62,"hi":2.95},{"t":2008.19,"y":1.99,"lo":0.7,"hi":3.1},{"t":2008.56,"y":1.85,"lo":0.65,"hi":3.0},{"t":2008.8,"y":1.87,"lo":0.65,"hi":3.05},{"t":2009.17,"y":1.85,"lo":0.65,"hi":3.05},{"t":2009.3,"y":1.59,"lo":0.55,"hi":2.8},{"t":2010.03,"y":1.61,"lo":0.55,"hi":2.85},{"t":2010.28,"y":1.38,"lo":0.48,"hi":2.6},{"t":2010.4,"y":1.63,"lo":0.55,"hi":2.85},{"t":2011.02,"y":1.63,"lo":0.55,"hi":2.9},{"t":2011.14,"y":1.56,"lo":0.52,"hi":2.85},{"t":2011.88,"y":1.59,"lo":0.52,"hi":2.95},{"t":2012.0,"y":1.23,"lo":0.4,"hi":2.5},{"t":2012.37,"y":1.33,"lo":0.42,"hi":2.6},{"t":2012.74,"y":1.33,"lo":0.42,"hi":2.7},{"t":2012.99,"y":1.85,"lo":0.62,"hi":3.1},{"t":2013.23,"y":1.54,"lo":0.52,"hi":2.8},{"t":2013.72,"y":1.59,"lo":0.52,"hi":2.9},{"t":2014.09,"y":1.85,"lo":0.6,"hi":3.1},{"t":2014.21,"y":1.25,"lo":0.4,"hi":2.4},{"t":2014.71,"y":1.33,"lo":0.42,"hi":2.55},{"t":2015.08,"y":1.61,"lo":0.5,"hi":2.85},{"t":2015.15,"y":0.86,"lo":0.2,"hi":2.0},{"t":2015.45,"y":1.05,"lo":0.28,"hi":2.2},{"t":2015.94,"y":1.14,"lo":0.32,"hi":2.35},{"t":2016.18,"y":1.47,"lo":0.48,"hi":2.7},{"t":2016.31,"y":1.14,"lo":0.35,"hi":2.4},{"t":2016.68,"y":1.42,"lo":0.45,"hi":2.7},{"t":2017.05,"y":1.56,"lo":0.5,"hi":2.9},{"t":2017.17,"y":1.94,"lo":0.65,"hi":3.15},{"t":2017.36,"y":1.28,"lo":0.42,"hi":2.6},{"t":2017.66,"y":1.61,"lo":0.52,"hi":2.95},{"t":2017.86,"y":1.8,"lo":0.6,"hi":3.1},{"t":2018.1,"y":2.22,"lo":0.75,"hi":3.3},{"t":2018.27,"y":1.85,"lo":0.62,"hi":3.1},{"t":2018.64,"y":1.75,"lo":0.6,"hi":3.0},{"t":2019.01,"y":1.87,"lo":0.62,"hi":3.1},{"t":2019.26,"y":1.66,"lo":0.55,"hi":2.9},{"t":2019.38,"y":1.42,"lo":0.48,"hi":2.65},{"t":2019.87,"y":1.44,"lo":0.48,"hi":2.7},{"t":2020.12,"y":1.52,"lo":0.5,"hi":2.8},{"t":2020.37,"y":1.66,"lo":0.55,"hi":2.9},{"t":2020.56,"y":1.61,"lo":0.52,"hi":2.85},{"t":2021.06,"y":2.1,"lo":0.7,"hi":3.2},{"t":2021.23,"y":1.66,"lo":0.55,"hi":2.85},{"t":2021.84,"y":1.66,"lo":0.55,"hi":2.85},{"t":2022.21,"y":1.94,"lo":0.65,"hi":3.05},{"t":2022.46,"y":1.8,"lo":0.6,"hi":2.95},{"t":2022.8,"y":1.85,"lo":0.62,"hi":3.0}
],
"s4":[
{"t":1984.3,"y":506,"lo":292,"hi":885},{"t":1984.57,"y":509,"lo":280,"hi":885},{"t":1984.82,"y":481,"lo":255,"hi":880},{"t":1985.19,"y":449,"lo":232,"hi":875},{"t":1985.56,"y":415,"lo":215,"hi":870},{"t":1985.93,"y":397,"lo":200,"hi":860},{"t":1986.42,"y":374,"lo":185,"hi":840},{"t":1986.91,"y":355,"lo":175,"hi":820},{"t":1987.28,"y":359,"lo":172,"hi":800},{"t":1987.89,"y":374,"lo":170,"hi":830},{"t":1988.51,"y":387,"lo":168,"hi":850},{"t":1989.12,"y":406,"lo":168,"hi":860},{"t":1989.74,"y":412,"lo":168,"hi":840},{"t":1990.11,"y":397,"lo":165,"hi":820},{"t":1990.48,"y":340,"lo":155,"hi":780},{"t":1991.09,"y":368,"lo":160,"hi":800},{"t":1991.58,"y":382,"lo":165,"hi":830},{"t":1992.32,"y":387,"lo":168,"hi":860},{"t":1993.31,"y":397,"lo":170,"hi":870},{"t":1994.04,"y":378,"lo":165,"hi":850},{"t":1994.78,"y":368,"lo":162,"hi":840},{"t":1995.77,"y":363,"lo":160,"hi":830},{"t":1996.5,"y":397,"lo":165,"hi":850},{"t":1997.12,"y":406,"lo":168,"hi":860},{"t":1997.73,"y":387,"lo":165,"hi":845},{"t":1998.23,"y":368,"lo":162,"hi":830},{"t":1998.96,"y":359,"lo":160,"hi":820},{"t":1999.7,"y":331,"lo":155,"hi":790},{"t":2000.44,"y":344,"lo":158,"hi":800},{"t":2000.93,"y":359,"lo":160,"hi":815},{"t":2001.18,"y":387,"lo":165,"hi":840},{"t":2001.42,"y":359,"lo":160,"hi":810},{"t":2001.92,"y":350,"lo":158,"hi":780},{"t":2002.04,"y":312,"lo":150,"hi":720},{"t":2002.9,"y":340,"lo":155,"hi":735},{"t":2003.64,"y":363,"lo":160,"hi":760},{"t":2004.62,"y":374,"lo":162,"hi":800},{"t":2005.11,"y":378,"lo":165,"hi":820},{"t":2005.65,"y":412,"lo":170,"hi":870},{"t":2005.97,"y":397,"lo":168,"hi":860},{"t":2006.47,"y":340,"lo":155,"hi":780},{"t":2007.33,"y":363,"lo":160,"hi":795},{"t":2008.31,"y":374,"lo":162,"hi":810},{"t":2008.8,"y":374,"lo":162,"hi":815},{"t":2009.54,"y":359,"lo":160,"hi":810},{"t":2010.28,"y":374,"lo":162,"hi":830},{"t":2011.02,"y":412,"lo":168,"hi":860},{"t":2012.0,"y":374,"lo":162,"hi":840},{"t":2012.74,"y":350,"lo":158,"hi":820},{"t":2013.72,"y":374,"lo":162,"hi":835},{"t":2014.21,"y":340,"lo":155,"hi":800},{"t":2014.71,"y":359,"lo":158,"hi":820},{"t":2015.45,"y":374,"lo":162,"hi":840},{"t":2016.18,"y":397,"lo":165,"hi":855},{"t":2016.43,"y":374,"lo":162,"hi":840},{"t":2016.8,"y":415,"lo":170,"hi":865},{"t":2017.05,"y":359,"lo":158,"hi":830},{"t":2017.17,"y":415,"lo":170,"hi":860},{"t":2017.42,"y":340,"lo":155,"hi":810},{"t":2018.03,"y":363,"lo":158,"hi":800},{"t":2018.4,"y":303,"lo":145,"hi":650},{"t":2018.84,"y":256,"lo":130,"hi":520},{"t":2019.14,"y":265,"lo":132,"hi":560},{"t":2019.63,"y":312,"lo":145,"hi":680},{"t":2020.12,"y":331,"lo":150,"hi":740},{"t":2020.24,"y":382,"lo":160,"hi":800},{"t":2020.41,"y":312,"lo":145,"hi":740},{"t":2021.1,"y":340,"lo":150,"hi":780},{"t":2021.59,"y":331,"lo":150,"hi":790},{"t":2021.84,"y":303,"lo":145,"hi":760},{"t":2022.33,"y":321,"lo":148,"hi":790},{"t":2022.58,"y":331,"lo":150,"hi":810},{"t":2022.8,"y":387,"lo":160,"hi":840}
]
},
"vconcat":[
{
 "width":1218,"height":142,
 "data":{"name":"s1"},
 "resolve":{"axis":{"x":"independent"}},
 "encoding":{"x":{"field":"t","type":"quantitative","scale":{"domain":[1984.3,2022.76],"nice":false,"zero":false},"axis":{"values":[1986,1988,1990,1992,1994,1996,1998,2000,2002,2004,2006,2008,2010,2012,2014,2016,2018,2020,2022],"labels":false,"ticks":false,"title":null}}},
 "layer":[
  {"mark":{"type":"area","clip":true,"color":"#b0b0b0","opacity":0.35},
   "encoding":{"y":{"field":"lo","type":"quantitative","scale":{"domain":[-101,100],"nice":false,"zero":false},"axis":{"values":[-50,0,50],"title":"Shoreline (m)","titleX":-76,"titleY":71,"titleAngle":-90,"titleAlign":"center","titleBaseline":"middle"}},"y2":{"field":"hi"}}},
  {"mark":{"type":"line","clip":true,"color":"black","strokeWidth":2},
   "encoding":{"x":{"field":"t","type":"quantitative","axis":null},"y":{"field":"y","type":"quantitative"}}},
  {"data":{"name":"d1"},
   "mark":{"type":"circle","clip":true,"color":"#ff0000","opacity":1,"size":30},
   "encoding":{"x":{"field":"t","type":"quantitative","axis":{"orient":"top","grid":false,"labels":false,"ticks":false,"title":null,"domain":true}},"y":{"field":"v","type":"quantitative"}}}
 ]
},
{
 "width":1218,"height":142,
 "data":{"name":"s2"},
 "encoding":{"x":{"field":"t","type":"quantitative","scale":{"domain":[1984.3,2022.76],"nice":false,"zero":false},"axis":{"values":[1986,1988,1990,1992,1994,1996,1998,2000,2002,2004,2006,2008,2010,2012,2014,2016,2018,2020,2022],"labels":false,"ticks":false,"title":null}}},
 "layer":[
  {"mark":{"type":"area","clip":true,"color":"#b0b0b0","opacity":0.35,"interpolate":"step-after"},
   "encoding":{"y":{"field":"lo","type":"quantitative","scale":{"domain":[0,10],"nice":false,"zero":false},"axis":{"values":[2,4,6,8],"title":"cᵃ  ×10⁻⁸","titleX":-51,"titleY":71,"titleAngle":-90,"titleAlign":"center","titleBaseline":"middle"}},"y2":{"field":"hi"}}},
  {"mark":{"type":"line","clip":true,"color":"black","strokeWidth":2,"interpolate":"step-after"},
   "encoding":{"y":{"field":"y","type":"quantitative"}}}
 ]
},
{
 "width":1218,"height":142,
 "data":{"name":"s3"},
 "encoding":{"x":{"field":"t","type":"quantitative","scale":{"domain":[1984.3,2022.76],"nice":false,"zero":false},"axis":{"values":[1986,1988,1990,1992,1994,1996,1998,2000,2002,2004,2006,2008,2010,2012,2014,2016,2018,2020,2022],"labels":false,"ticks":false,"title":null}}},
 "layer":[
  {"mark":{"type":"area","clip":true,"color":"#b0b0b0","opacity":0.35,"interpolate":"step-after"},
   "encoding":{"y":{"field":"lo","type":"quantitative","scale":{"domain":[0.03,4.05],"nice":false,"zero":false},"axis":{"values":[1,2,3],"title":"cᵉ  ×10⁻⁸","titleX":-51,"titleY":71,"titleAngle":-90,"titleAlign":"center","titleBaseline":"middle"}},"y2":{"field":"hi"}}},
  {"mark":{"type":"line","clip":true,"color":"black","strokeWidth":2,"interpolate":"step-after"},
   "encoding":{"y":{"field":"y","type":"quantitative"}}}
 ]
},
{
 "width":1218,"height":142,
 "data":{"name":"s4"},
 "encoding":{"x":{"field":"t","type":"quantitative","scale":{"domain":[1984.3,2022.76],"nice":false,"zero":false},"axis":{"values":[1986,1988,1990,1992,1994,1996,1998,2000,2002,2004,2006,2008,2010,2012,2014,2016,2018,2020,2022],"format":"d","title":null}}},
 "layer":[
  {"mark":{"type":"area","clip":true,"color":"#b0b0b0","opacity":0.35},
   "encoding":{"y":{"field":"lo","type":"quantitative","scale":{"domain":[101,899],"nice":false,"zero":false},"axis":{"values":[250,500,750],"title":"ϕ (days)","titleX":-83,"titleY":71,"titleAngle":-90,"titleAlign":"center","titleBaseline":"middle"}},"y2":{"field":"hi"}}},
  {"mark":{"type":"line","clip":true,"color":"black","strokeWidth":2},
   "encoding":{"y":{"field":"y","type":"quantitative"}}}
 ]
}
]
}
